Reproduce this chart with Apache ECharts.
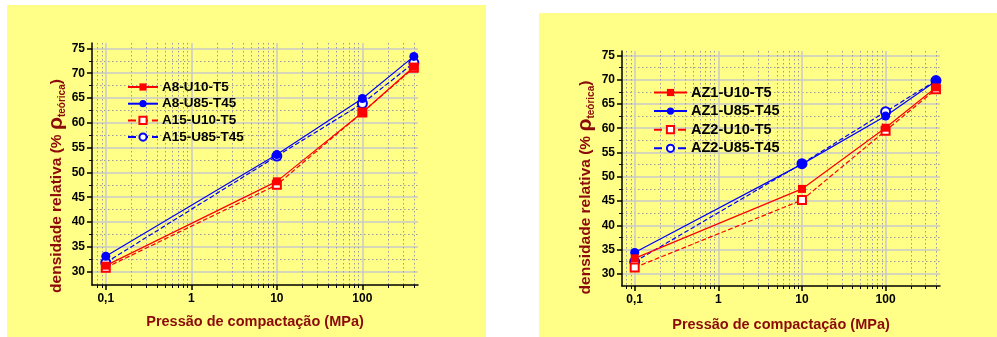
<!DOCTYPE html>
<html>
<head>
<meta charset="utf-8">
<script src="https://cdn.jsdelivr.net/npm/echarts@6/dist/echarts.min.js"></script>
<style>
  body { margin: 0; background: #fff; width: 997px; height: 337px; position: relative; overflow: hidden; }
  #left { position: absolute; left: 7px; top: 5px; width: 479px; height: 332px; }
  #right { position: absolute; left: 539px; top: 13px; width: 458px; height: 324px; }
</style>
</head>
<body>
<div id="left"></div>
<div id="right"></div>
<script>
// pressure (MPa) and relative density (% of theoretical)
var pressures = [0.1, 10, 100, 400];

var leftNames = ["A8-U10-T5", "A8-U85-T45", "A15-U10-T5", "A15-U85-T45"];
var a8U10T5 = [31.2, 48.2, 62.1, 71.3];
var a8U85T45 = [33.1, 53.6, 64.9, 73.4];
var a15U10T5 = [30.8, 47.5, 62.1, 71.1];
var a15U85T45 = [31.8, 53.3, 63.9, 72.1];

var rightNames = ["AZ1-U10-T5", "AZ1-U85-T45", "AZ2-U10-T5", "AZ2-U85-T45"];
var az1U10T5 = [33.2, 47.5, 60.1, 68.4];
var az1U85T45 = [34.4, 52.6, 62.5, 69.7];
var az2U10T5 = [31.3, 45.2, 59.5, 68.0];
var az2U85T45 = [32.5, 52.7, 63.4, 69.8];

var xTicks = [0.1, 1, 10, 100];
var xMinor = [0.08, 0.09, 0.2, 0.3, 0.4, 0.5, 0.6, 0.7, 0.8, 0.9,
  2, 3, 4, 5, 6, 7, 8, 9, 20, 30, 40, 50, 60, 70, 80, 90, 200, 300, 400];
var yTicks = [30, 35, 40, 45, 50, 55, 60, 65, 70, 75];
var yMinor = [32.5, 37.5, 42.5, 47.5, 52.5, 57.5, 62.5, 67.5, 72.5];

var titleColor = "#8b0a0a";
var bgColor = "#ffff88";

function pairs(ys) {
  return pressures.map(function (p, i) { return [p, ys[i]]; });
}

function drawPanel(elId, names, sets, cfg) {
  var chart = echarts.init(document.getElementById(elId));
  var styles = [
    { color: "#ff0000", symbol: "rect", type: "solid" },
    { color: "#0000ff", symbol: "circle", type: "solid" },
    { color: "#ff0000", symbol: "emptyRect", type: "dashed" },
    { color: "#0000ff", symbol: "emptyCircle", type: "dashed" }
  ];
  var series = names.map(function (n, i) {
    return {
      name: n,
      type: "line",
      data: pairs(sets[i]),
      symbol: styles[i].symbol,
      symbolSize: i % 2 ? 9 : 8,
      itemStyle: { color: styles[i].color, borderWidth: 1.2 },
      lineStyle: { color: styles[i].color, width: 1.2, type: styles[i].type },
      z: 4 - i
    };
  });
  var xBase = {
    type: "log", min: cfg.xMin, max: cfg.xMax, position: "bottom", offset: 0
  };
  var yBase = {
    type: "value", min: cfg.yMin, max: cfg.yMax, position: "left", offset: 0
  };
  chart.setOption({
    backgroundColor: bgColor,
    animation: false,
    textStyle: { fontFamily: "Liberation Sans, Arial, sans-serif" },
    grid: { left: cfg.left, top: cfg.top, width: cfg.width, height: cfg.height },
    legend: {
      orient: "vertical",
      left: cfg.legLeft, top: cfg.legTop,
      itemWidth: cfg.legItemW, itemHeight: 9, itemGap: cfg.legGap,
      textStyle: { fontSize: cfg.legFont, fontWeight: "bold", color: "#000", padding: [0, 0, 0, -1] },
      data: names
    },
    xAxis: [
      Object.assign({}, xBase, {
        axisLine: { show: true, lineStyle: { color: "#000", width: 1.5 } },
        axisTick: { show: true, length: 5, customValues: xTicks, lineStyle: { color: "#000", width: 1.5 } },
        axisLabel: {
          customValues: xTicks, margin: 8, fontSize: 12, fontWeight: "bold", color: "#000",
          formatter: function (v) { return String(v).replace(".", ","); }
        },
        splitLine: { show: true, lineStyle: { color: "#c8c8c8", width: 1.5 } },
        name: "Pressão de compactação (MPa)",
        nameLocation: "middle", nameGap: cfg.xNameGap, nameMoveOverlap: false,
        nameTextStyle: { fontSize: 14.5, fontWeight: "bold", color: titleColor }
      }),
      Object.assign({}, xBase, {
        axisLine: { show: false },
        axisTick: { show: true, length: 3, customValues: xMinor, lineStyle: { color: "#000", width: 1 } },
        axisLabel: { show: false },
        splitLine: { show: true, lineStyle: { color: "#9a9a9a", width: 1, type: [1.5, 2.5] } }
      })
    ],
    yAxis: [
      Object.assign({}, yBase, {
        axisLine: { show: true, lineStyle: { color: "#000", width: 1.5 } },
        axisTick: { show: true, length: 5, customValues: yTicks, lineStyle: { color: "#000", width: 1.5 } },
        axisLabel: { customValues: yTicks, margin: 7, fontSize: 12, fontWeight: "bold", color: "#000" },
        splitLine: { show: true, lineStyle: { color: "#c8c8c8", width: 1.5 } },
        name: "{n|densidade relativa (% }{r|ρ}{s|teórica}{n|)}",
        nameLocation: "middle", nameGap: cfg.yNameGap, nameRotate: 90, nameMoveOverlap: false,
        nameTextStyle: {
          color: titleColor,
          padding: [0, cfg.yNameShift, 0, 0],
          rich: {
            n: { fontSize: 15.5, fontWeight: "bold", color: titleColor },
            r: { fontSize: 21, fontWeight: "bold", color: titleColor },
            s: { fontSize: 10, fontWeight: "bold", color: titleColor, verticalAlign: "bottom", padding: [6, 0, 0, 0] }
          }
        }
      }),
      Object.assign({}, yBase, {
        axisLine: { show: false },
        axisTick: { show: true, length: 3, customValues: yMinor, lineStyle: { color: "#000", width: 1 } },
        axisLabel: { show: false },
        splitLine: { show: true, lineStyle: { color: "#9a9a9a", width: 1, type: [1.5, 2.5] } }
      })
    ],
    series: series
  });
  return chart;
}

drawPanel("left", leftNames, [a8U10T5, a8U85T45, a15U10T5, a15U85T45], {
  left: 85, top: 38, width: 326, height: 242,
  xMin: 0.069, xMax: 447, yMin: 27.3, yMax: 76.1,
  legLeft: 115, legTop: 70, legItemW: 30, legGap: 2.7, legFont: 13.5,
  xNameGap: 29, yNameGap: 25, yNameShift: 44
});

drawPanel("right", rightNames, [az1U10T5, az1U85T45, az2U10T5, az2U85T45], {
  left: 83, top: 38, width: 318, height: 235,
  xMin: 0.0705, xMax: 447, yMin: 27.5, yMax: 75.9,
  legLeft: 109, legTop: 67, legItemW: 33, legGap: 3.6, legFont: 14.5,
  xNameGap: 31, yNameGap: 26, yNameShift: 38
});
</script>
</body>
</html>
